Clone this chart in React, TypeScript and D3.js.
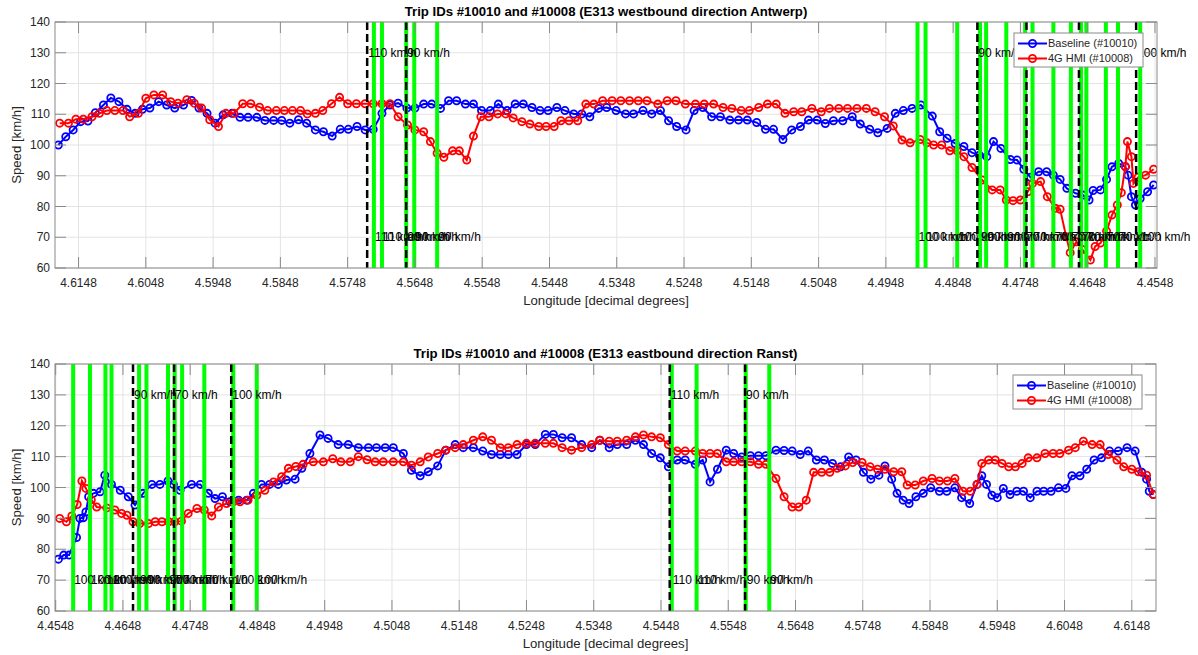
import React from "react";
import * as d3 from "d3";

// ---------- DATA ----------
// [longitude, speed km/h]
const westBaseline: [number, number][] = [
  [4.6178,100.0],[4.6167,102.7],[4.6156,104.9],[4.6145,107.6],[4.6134,107.8],[4.6123,110.5],[4.6111,113.0],[4.6100,115.3],
  [4.6088,114.1],[4.6076,111.6],[4.6064,110.3],[4.6053,111.6],[4.6042,112.0],[4.6029,114.1],[4.6017,113.0],[4.6005,112.0],
  [4.5992,113.0],[4.5980,114.5],[4.5969,112.0],[4.5957,110.3],[4.5945,107.1],[4.5933,109.8],[4.5920,110.3],[4.5908,109.0],
  [4.5896,109.0],[4.5883,109.0],[4.5871,108.0],[4.5858,108.0],[4.5846,108.0],[4.5834,107.1],[4.5821,108.2],[4.5809,107.1],
  [4.5796,104.9],[4.5784,104.3],[4.5771,102.9],[4.5759,105.1],[4.5747,105.1],[4.5734,106.0],[4.5722,104.9],[4.5710,105.1],
  [4.5697,110.3],[4.5685,113.0],[4.5673,113.6],[4.5660,112.0],[4.5648,112.0],[4.5635,113.3],[4.5623,113.3],[4.5610,111.9],
  [4.5598,114.4],[4.5586,114.4],[4.5573,113.3],[4.5561,113.3],[4.5549,111.2],[4.5536,111.2],[4.5524,113.3],[4.5511,111.2],
  [4.5499,113.3],[4.5487,113.3],[4.5474,112.2],[4.5462,111.2],[4.5450,111.2],[4.5437,112.2],[4.5425,111.2],[4.5412,110.1],
  [4.5400,110.1],[4.5388,109.2],[4.5375,111.9],[4.5363,112.2],[4.5349,111.2],[4.5335,110.1],[4.5323,110.1],[4.5309,111.2],
  [4.5296,110.1],[4.5283,111.2],[4.5271,107.9],[4.5259,106.0],[4.5245,104.9],[4.5233,111.2],[4.5220,112.2],[4.5207,109.2],
  [4.5194,109.2],[4.5180,108.1],[4.5167,108.1],[4.5154,108.1],[4.5140,107.3],[4.5127,105.1],[4.5115,105.1],[4.5101,101.8],
  [4.5088,104.9],[4.5075,106.0],[4.5063,108.1],[4.5050,108.1],[4.5038,107.0],[4.5026,107.9],[4.5012,107.9],[4.4998,109.2],
  [4.4986,106.8],[4.4972,105.1],[4.4960,104.0],[4.4946,105.4],[4.4934,110.3],[4.4922,111.2],[4.4909,111.9],[4.4896,113.0],
  [4.4879,109.4],[4.4868,104.3],[4.4857,102.2],[4.4845,100.5],[4.4832,99.5],[4.4820,97.5],[4.4809,96.7],[4.4798,96.2],
  [4.4788,101.1],[4.4777,98.9],[4.4763,95.3],[4.4753,95.1],[4.4743,92.1],[4.4733,89.5],[4.4721,91.3],[4.4709,91.3],
  [4.4699,90.2],[4.4689,88.8],[4.4679,85.9],[4.4666,84.3],[4.4655,83.7],[4.4646,82.1],[4.4640,85.2],[4.4629,85.4],
  [4.4620,88.8],[4.4612,92.9],[4.4602,94.0],[4.4592,92.9],[4.4588,90.2],[4.4583,83.2],[4.4577,80.5],[4.4570,82.6],
  [4.4559,84.8],[4.4550,87.0],
];

const westHmi: [number, number][] = [
  [4.6176,107.1],[4.6163,107.1],[4.6152,108.4],[4.6141,108.4],[4.6128,109.2],[4.6117,110.3],[4.6106,111.2],[4.6094,111.2],
  [4.6082,111.2],[4.6072,109.2],[4.6059,110.3],[4.6048,115.2],[4.6036,116.3],[4.6023,116.3],[4.6011,114.1],[4.6000,113.6],
  [4.5987,114.7],[4.5976,113.6],[4.5965,112.0],[4.5953,108.2],[4.5940,106.0],[4.5929,110.3],[4.5917,110.3],[4.5904,113.4],
  [4.5892,113.4],[4.5879,112.3],[4.5867,111.2],[4.5854,111.2],[4.5842,111.2],[4.5830,111.2],[4.5818,111.2],[4.5808,110.1],
  [4.5796,110.3],[4.5785,111.2],[4.5772,113.4],[4.5760,115.5],[4.5748,113.4],[4.5735,113.4],[4.5722,113.4],[4.5710,113.4],
  [4.5697,113.4],[4.5685,113.4],[4.5673,109.2],[4.5659,106.5],[4.5648,104.9],[4.5635,104.3],[4.5625,101.1],[4.5615,97.3],
  [4.5605,96.0],[4.5592,98.1],[4.5582,98.1],[4.5571,95.1],[4.5561,102.9],[4.5550,109.2],[4.5538,109.2],[4.5525,110.1],
  [4.5513,110.1],[4.5502,108.8],[4.5489,107.6],[4.5477,106.8],[4.5464,106.0],[4.5453,106.0],[4.5441,106.0],[4.5431,107.9],
  [4.5419,107.9],[4.5406,107.9],[4.5394,113.3],[4.5382,113.3],[4.5369,114.4],[4.5355,114.4],[4.5342,114.4],[4.5329,114.4],
  [4.5316,114.4],[4.5303,114.4],[4.5287,113.3],[4.5273,114.4],[4.5260,114.4],[4.5246,113.3],[4.5231,113.3],[4.5218,113.3],
  [4.5204,113.3],[4.5190,112.2],[4.5177,111.9],[4.5163,111.2],[4.5151,111.2],[4.5137,112.2],[4.5124,113.3],[4.5111,113.3],
  [4.5098,110.3],[4.5085,110.8],[4.5073,110.8],[4.5058,111.9],[4.5044,110.8],[4.5032,111.9],[4.5018,111.9],[4.5005,111.9],
  [4.4991,111.9],[4.4977,111.9],[4.4964,110.8],[4.4950,109.2],[4.4937,106.2],[4.4924,101.6],[4.4912,100.7],[4.4897,101.8],
  [4.4887,100.7],[4.4877,100.0],[4.4865,100.0],[4.4853,98.1],[4.4842,98.1],[4.4832,96.2],[4.4820,92.7],[4.4805,88.6],
  [4.4790,85.4],[4.4778,85.4],[4.4769,82.1],[4.4759,81.9],[4.4748,82.1],[4.4737,84.8],[4.4730,87.5],[4.4718,88.1],
  [4.4708,83.2],[4.4696,79.4],[4.4689,79.1],[4.4680,70.2],[4.4674,65.0],[4.4665,68.5],[4.4656,66.0],[4.4644,62.6],
  [4.4637,67.0],[4.4629,68.1],[4.4620,72.0],[4.4612,77.2],[4.4604,80.5],[4.4598,84.5],[4.4592,93.0],[4.4589,101.1],
  [4.4583,96.2],[4.4580,87.5],[4.4573,89.5],[4.4562,90.2],[4.4550,92.1],
];

const eastBaseline: [number, number][] = [
  [4.4552,76.8],[4.4560,78.1],[4.4568,78.1],[4.4579,83.8],[4.4584,90.0],[4.4589,90.2],[4.4593,92.1],[4.4597,97.0],
  [4.4604,98.1],[4.4614,98.6],[4.4621,104.0],[4.4631,101.0],[4.4644,99.1],[4.4656,97.0],[4.4666,94.3],[4.4678,98.1],
  [4.4691,101.0],[4.4703,101.0],[4.4715,102.1],[4.4723,101.0],[4.4733,99.1],[4.4750,101.0],[4.4763,101.0],[4.4775,98.1],
  [4.4785,96.4],[4.4796,97.0],[4.4807,95.4],[4.4820,95.9],[4.4832,95.9],[4.4842,98.1],[4.4854,101.0],[4.4866,101.0],
  [4.4879,101.0],[4.4891,102.4],[4.4904,102.7],[4.4914,106.2],[4.4926,111.0],[4.4941,117.0],[4.4953,115.9],[4.4968,113.9],
  [4.4983,113.9],[4.4998,112.9],[4.5013,112.9],[4.5025,112.9],[4.5038,112.9],[4.5050,112.9],[4.5065,111.0],[4.5077,105.6],
  [4.5090,103.8],[4.5102,105.1],[4.5116,107.0],[4.5128,112.1],[4.5142,113.9],[4.5154,112.9],[4.5169,112.9],[4.5183,111.8],
  [4.5196,110.7],[4.5209,110.7],[4.5221,110.7],[4.5234,110.7],[4.5248,113.9],[4.5261,113.9],[4.5276,117.2],[4.5288,117.2],
  [4.5301,116.1],[4.5315,116.1],[4.5330,113.9],[4.5345,112.9],[4.5357,115.3],[4.5371,112.9],[4.5383,113.9],[4.5397,113.9],
  [4.5410,115.3],[4.5422,113.9],[4.5434,111.0],[4.5447,109.6],[4.5459,106.7],[4.5472,108.9],[4.5484,108.9],[4.5499,107.5],
  [4.5510,108.9],[4.5521,101.8],[4.5532,105.9],[4.5545,112.1],[4.5556,111.0],[4.5568,109.9],[4.5581,110.3],[4.5593,110.3],
  [4.5604,110.3],[4.5619,112.1],[4.5631,112.0],[4.5643,111.8],[4.5655,110.7],[4.5667,111.8],[4.5679,108.9],[4.5691,108.9],
  [4.5703,107.8],[4.5715,106.7],[4.5727,109.9],[4.5738,108.9],[4.5749,104.9],[4.5760,102.7],[4.5772,104.0],[4.5781,107.0],
  [4.5791,102.7],[4.5799,98.1],[4.5808,95.9],[4.5817,94.8],[4.5827,97.0],[4.5838,98.1],[4.5849,99.9],[4.5862,98.8],
  [4.5873,98.8],[4.5885,99.9],[4.5895,96.7],[4.5907,94.8],[4.5918,101.0],[4.5925,103.8],[4.5932,101.0],[4.5940,97.5],
  [4.5948,96.7],[4.5957,99.7],[4.5967,97.7],[4.5977,98.8],[4.5987,98.8],[4.5997,96.7],[4.6007,98.8],[4.6017,98.8],
  [4.6028,98.8],[4.6039,99.9],[4.6050,99.7],[4.6059,103.8],[4.6071,103.8],[4.6081,105.9],[4.6092,108.9],[4.6103,109.6],
  [4.6115,111.8],[4.6128,111.8],[4.6141,112.9],[4.6153,111.8],[4.6163,104.9],[4.6170,102.7],[4.6174,98.8],[4.6180,97.7],
];

const eastHmi: [number, number][] = [
  [4.4554,90.0],[4.4564,88.9],[4.4572,90.8],[4.4580,94.5],[4.4587,102.1],[4.4593,99.7],[4.4601,96.0],[4.4609,93.7],
  [4.4624,93.4],[4.4636,92.7],[4.4646,91.6],[4.4654,91.0],[4.4663,88.9],[4.4673,88.3],[4.4686,88.3],[4.4696,88.9],
  [4.4706,88.9],[4.4716,88.9],[4.4725,88.9],[4.4735,89.1],[4.4745,91.6],[4.4758,93.2],[4.4769,92.7],[4.4780,90.8],
  [4.4790,93.7],[4.4802,94.8],[4.4812,95.4],[4.4822,95.4],[4.4834,95.9],[4.4847,97.5],[4.4859,99.1],[4.4872,101.8],
  [4.4884,103.5],[4.4894,106.2],[4.4905,106.8],[4.4916,107.5],[4.4931,108.3],[4.4946,108.3],[4.4960,109.3],[4.4972,108.3],
  [4.4986,108.3],[4.4998,110.0],[4.5011,109.0],[4.5023,108.3],[4.5035,108.3],[4.5050,108.3],[4.5065,108.3],[4.5077,107.2],
  [4.5090,108.3],[4.5102,109.9],[4.5116,111.0],[4.5128,112.1],[4.5142,112.9],[4.5154,113.9],[4.5169,115.3],[4.5183,116.4],
  [4.5196,115.3],[4.5209,112.9],[4.5221,112.9],[4.5234,113.9],[4.5248,114.3],[4.5261,114.3],[4.5276,114.3],[4.5288,114.3],
  [4.5301,112.9],[4.5315,112.1],[4.5330,112.9],[4.5345,113.9],[4.5357,115.3],[4.5371,115.0],[4.5383,115.0],[4.5397,115.3],
  [4.5410,116.4],[4.5422,117.0],[4.5434,116.4],[4.5447,116.1],[4.5459,113.9],[4.5472,111.8],[4.5484,111.8],[4.5499,111.8],
  [4.5510,111.0],[4.5521,111.0],[4.5532,111.0],[4.5545,108.3],[4.5556,108.3],[4.5568,108.3],[4.5581,108.3],[4.5593,107.5],
  [4.5604,107.5],[4.5619,102.9],[4.5631,97.0],[4.5643,93.7],[4.5653,93.7],[4.5664,95.9],[4.5675,104.9],[4.5687,104.9],
  [4.5699,104.9],[4.5710,106.2],[4.5722,107.0],[4.5733,108.1],[4.5747,108.1],[4.5759,106.7],[4.5770,105.9],[4.5781,105.9],
  [4.5794,105.1],[4.5806,105.1],[4.5814,100.8],[4.5826,100.8],[4.5838,102.1],[4.5851,102.9],[4.5862,102.1],[4.5874,102.1],
  [4.5885,102.9],[4.5897,98.8],[4.5908,98.8],[4.5918,101.0],[4.5925,107.8],[4.5935,108.9],[4.5945,108.9],[4.5955,107.8],
  [4.5965,106.7],[4.5975,106.7],[4.5985,107.8],[4.5994,109.6],[4.6007,109.6],[4.6019,111.0],[4.6031,111.0],[4.6041,111.0],
  [4.6054,112.1],[4.6064,112.9],[4.6076,115.0],[4.6089,113.9],[4.6101,113.9],[4.6113,110.7],[4.6126,108.9],[4.6136,106.7],
  [4.6148,105.9],[4.6158,105.1],[4.6170,104.0],[4.6180,97.7],
];

// speed-limit markers: green = sign positions (label at 70), dashed = limit change (label at 130)
const westGreenLon = [4.5709,4.5697,4.5661,4.5649,4.5615,4.4901,4.4889,4.4842,4.4808,4.4799,4.4769,4.4741,4.4730,4.4699,4.4673,4.4658,4.4650,4.4621,4.4603,4.4570];
const westGreenText = ["110 km/h","110 km/h","90 km/h","90 km/h","90 km/h","100 km/h","100 km/h","100 km/h","90 km/h","90 km/h","90 km/h","70 km/h","70 km/h","70 km/h","70 km/h","70 km/h","70 km/h","70 km/h","70 km/h","100 km/h"];
const westDashLon = [4.5719,4.5661,4.4812,4.4739,4.4661,4.4576];
const westDashText = ["110 km/h","90 km/h","90 km/h","70 km/h","70 km/h","100 km/h"];

const eastGreenLon = [4.4574,4.4599,4.4622,4.4631,4.4672,4.4683,4.4715,4.4725,4.4736,4.4769,4.4812,4.4847,4.5464,4.5501,4.5574,4.5609];
const eastGreenText = ["100 km/h","100 km/h","100 km/h","100 km/h","90 km/h","90 km/h","90 km/h","70 km/h","70 km/h","70 km/h","100 km/h","100 km/h","110 km/h","110 km/h","90 km/h","90 km/h"];
const eastDashLon = [4.4663,4.4724,4.4809,4.5461,4.5573];
const eastDashText = ["90 km/h","70 km/h","100 km/h","110 km/h","90 km/h"];

const xTickValues = [4.4548,4.4648,4.4748,4.4848,4.4948,4.5048,4.5148,4.5248,4.5348,4.5448,4.5548,4.5648,4.5748,4.5848,4.5948,4.6048,4.6148];
const yTickValues = [60,70,80,90,100,110,120,130,140];
const seriesNames = ["Baseline (#10010)", "4G HMI (#10008)"];
const seriesColors = ["#0000ff", "#ff0000"];
const titles = [
  "Trip IDs #10010 and #10008 (E313 westbound direction Antwerp)",
  "Trip IDs #10010 and #10008 (E313 eastbound direction Ranst)",
];
const xLabel = "Longitude [decimal degrees]";
const yLabel = "Speed [km/h]";
const labelTopSpeed = 130;
const labelBottomSpeed = 70;

const FONT = "'Liberation Sans', Arial, Helvetica, sans-serif";
const AX = "#262626";

type PanelProps = {
  id: string;
  title: string;
  xDomain: [number, number];
  left: number; right: number; top: number; bottom: number;
  baseline: [number, number][];
  hmi: [number, number][];
  greenLon: number[]; greenText: string[];
  dashLon: number[]; dashText: string[];
};

function Panel(p: PanelProps) {
  const x = d3.scaleLinear().domain(p.xDomain).range([p.left, p.right]);
  const y = d3.scaleLinear().domain([60, 140]).range([p.bottom, p.top]);
  const line = d3.line<[number, number]>().x(d => x(d[0])).y(d => y(d[1]));
  const tickLen = 11;
  const series = [p.baseline, p.hmi];
  const cx = (p.left + p.right) / 2;
  const cy = (p.top + p.bottom) / 2;
  const lgX = p.right - 143 + 0;
  const lgY = p.top + 11;
  return (
    <g>
      <defs>
        <clipPath id={p.id}>
          <rect x={p.left} y={p.top} width={p.right - p.left} height={p.bottom - p.top} />
        </clipPath>
      </defs>
      <rect x={p.left} y={p.top} width={p.right - p.left} height={p.bottom - p.top} fill="#fff" />
      {/* grid */}
      {xTickValues.map(v => (
        <line key={"gx" + v} x1={x(v)} x2={x(v)} y1={p.top} y2={p.bottom} stroke="#e3e3e3" strokeWidth={1} />
      ))}
      {yTickValues.map(v => (
        <line key={"gy" + v} x1={p.left} x2={p.right} y1={y(v)} y2={y(v)} stroke="#e3e3e3" strokeWidth={1} />
      ))}
      {/* data */}
      <g clipPath={`url(#${p.id})`}>
        {series.map((s, i) => (
          <g key={"s" + i}>
            <path d={line(s) || ""} fill="none" stroke={seriesColors[i]} strokeWidth={2} />
            {s.map((d, j) => (
              <circle key={j} cx={x(d[0])} cy={y(d[1])} r={3.6} fill="none" stroke={seriesColors[i]} strokeWidth={1.8} />
            ))}
          </g>
        ))}
        {p.greenLon.map((v, i) => (
          <line key={"g" + i} x1={x(v)} x2={x(v)} y1={p.top} y2={p.bottom} stroke="#00ff00" strokeWidth={4} />
        ))}
        {p.dashLon.map((v, i) => (
          <line key={"d" + i} x1={x(v)} x2={x(v)} y1={p.top} y2={p.bottom} stroke="#000" strokeWidth={2.5} strokeDasharray="8,4" />
        ))}
      </g>
      {/* marker labels */}
      {p.dashLon.map((v, i) => (
        <text key={"dt" + i} x={x(v) + 1} y={y(labelTopSpeed)} dy="0.35em" fontSize={12} fontFamily={FONT} fill="#000">{p.dashText[i]}</text>
      ))}
      {p.greenLon.map((v, i) => (
        <text key={"gt" + i} x={x(v) + 1} y={y(labelBottomSpeed)} dy="0.35em" fontSize={12} fontFamily={FONT} fill="#000">{p.greenText[i]}</text>
      ))}
      {/* axes box */}
      <rect x={p.left} y={p.top} width={p.right - p.left} height={p.bottom - p.top} fill="none" stroke="#8a8a8a" strokeWidth={1} />
      {xTickValues.map(v => (
        <g key={"tx" + v}>
          <line x1={x(v)} x2={x(v)} y1={p.bottom} y2={p.bottom - tickLen} stroke="#8a8a8a" />
          <line x1={x(v)} x2={x(v)} y1={p.top} y2={p.top + tickLen} stroke="#8a8a8a" />
          <text x={x(v)} y={p.bottom + 19} textAnchor="middle" fontSize={12} fontFamily={FONT} fill={AX}>{v.toFixed(4)}</text>
        </g>
      ))}
      {yTickValues.map(v => (
        <g key={"ty" + v}>
          <line x1={p.left} x2={p.left + tickLen} y1={y(v)} y2={y(v)} stroke="#8a8a8a" />
          <line x1={p.right} x2={p.right - tickLen} y1={y(v)} y2={y(v)} stroke="#8a8a8a" />
          <text x={p.left - 5} y={y(v)} dy="0.35em" textAnchor="end" fontSize={12} fontFamily={FONT} fill={AX}>{v}</text>
        </g>
      ))}
      <text x={cx} y={p.bottom + 36.5} textAnchor="middle" fontSize={13.2} fontFamily={FONT} fill={AX}>{xLabel}</text>
      <text transform={`translate(${16.5},${cy}) rotate(-90)`} textAnchor="middle" dy="0.35em" fontSize={13.2} fontFamily={FONT} fill={AX}>{yLabel}</text>
      <text x={cx} y={p.top - 6} textAnchor="middle" fontSize={13.2} fontWeight="bold" fontFamily={FONT} fill="#000">{p.title}</text>
      {/* legend */}
      <g>
        <rect x={lgX} y={lgY} width={129} height={34} fill="#fff" stroke="#8a8a8a" strokeWidth={1} />
        {seriesNames.map((n, i) => {
          const ly = lgY + 10.5 + i * 15;
          return (
            <g key={"lg" + i}>
              <line x1={lgX + 4} x2={lgX + 33} y1={ly} y2={ly} stroke={seriesColors[i]} strokeWidth={2} />
              <circle cx={lgX + 18.5} cy={ly} r={3.6} fill="none" stroke={seriesColors[i]} strokeWidth={1.8} />
              <text x={lgX + 34} y={ly} dy="0.35em" fontSize={11} fontFamily={FONT} fill={AX}>{n}</text>
            </g>
          );
        })}
      </g>
    </g>
  );
}

export default function App() {
  return (
    <div style={{ position: "absolute", left: 0, top: 0 }}>
      <svg width={1198} height={655} style={{ display: "block", background: "#fff" }}>
        <rect width={1198} height={655} fill="#fff" />
        <Panel id="clipTop" title={titles[0]} xDomain={[4.6183, 4.4545]} left={55} right={1157} top={22} bottom={268}
          baseline={westBaseline} hmi={westHmi} greenLon={westGreenLon} greenText={westGreenText} dashLon={westDashLon} dashText={westDashText} />
        <Panel id="clipBot" title={titles[1]} xDomain={[4.4547, 4.6184]} left={55} right={1156} top={364} bottom={611}
          baseline={eastBaseline} hmi={eastHmi} greenLon={eastGreenLon} greenText={eastGreenText} dashLon={eastDashLon} dashText={eastDashText} />
      </svg>
    </div>
  );
}
